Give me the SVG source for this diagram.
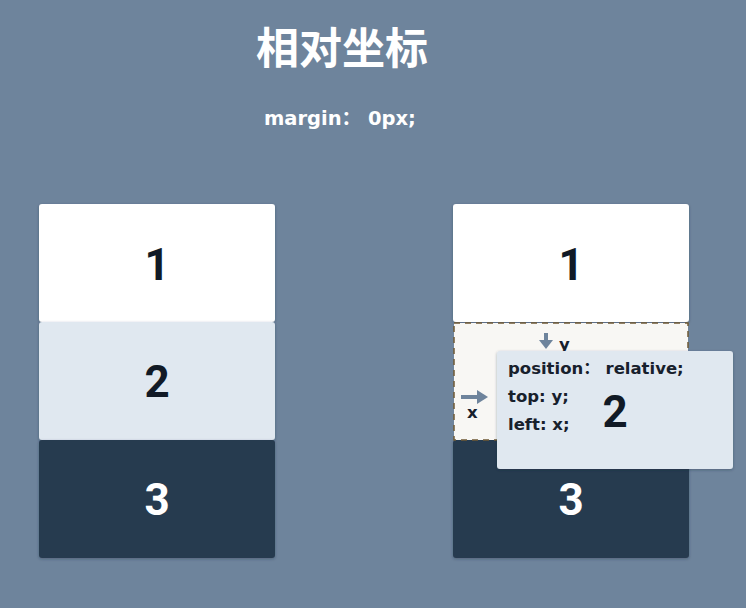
<svg xmlns="http://www.w3.org/2000/svg" width="746" height="608" viewBox="0 0 746 608">
<defs>
<style>
.num{font-family:Roboto,"Liberation Sans",sans-serif;font-weight:bold;font-size:44px;text-anchor:middle}
.code{font-family:"DejaVu Sans","Noto Sans CJK SC",sans-serif;font-weight:bold;font-size:16.5px;fill:#17202c}
</style>
<filter id="sh" x="-10%" y="-10%" width="120%" height="130%"><feDropShadow dx="0" dy="1" stdDeviation="1.5" flood-color="#1e2a3a" flood-opacity="0.35"/></filter>
</defs>
<rect width="746" height="608" fill="#6e849c"/>
<text x="342" y="64" font-family="'Noto Sans CJK SC',sans-serif" font-weight="bold" font-size="43" fill="#ffffff" text-anchor="middle">相对坐标</text>
<text x="264" y="125" font-family="'DejaVu Sans','Noto Sans CJK SC',sans-serif" font-weight="bold" font-size="19.5" fill="#ffffff">margin：  0px;</text>

<g id="left-1"><rect x="39" y="204" width="236" height="118" rx="3" fill="#ffffff" filter="url(#sh)"/><text class="num" x="157" y="280" fill="#111a26">1</text></g>
<g id="left-2"><rect x="39" y="322" width="236" height="118" rx="3" fill="#e0e8f0" filter="url(#sh)"/><text class="num" x="157" y="397" fill="#111a26">2</text></g>
<g id="left-3"><rect x="39" y="440" width="236" height="118" rx="3" fill="#283a4f" filter="url(#sh)"/><text class="num" x="157" y="515" fill="#ffffff">3</text></g>

<g id="right-1"><rect x="453" y="204" width="236" height="118" rx="3" fill="#ffffff" filter="url(#sh)"/><text class="num" x="571" y="280" fill="#111a26">1</text></g>
<g id="right-3"><rect x="453" y="440" width="236" height="118" rx="3" fill="#283a4f" filter="url(#sh)"/><text class="num" x="571" y="515" fill="#ffffff">3</text></g>
<g id="right-ghost"><rect x="454" y="323" width="234" height="117" fill="#f8f7f4" stroke="#6f5a34" stroke-width="1.5" stroke-dasharray="6,5"/></g>

<g id="connectors">
<path d="M546 333 V342" stroke="#6e849c" stroke-width="4"/>
<path d="M539 340 L553 340 L546 349 Z" fill="#6e849c"/>
<path d="M461 397 H479" stroke="#6e849c" stroke-width="4"/>
<path d="M477 390 L488 397 L477 404 Z" fill="#6e849c"/>
</g>
<text x="559" y="350" class="code" font-size="17">y</text>
<text x="467" y="418" class="code" font-size="17">x</text>

<g id="right-2"><rect x="497" y="351" width="236" height="118" rx="3" fill="#e0e8f0" filter="url(#sh)"/>
<text x="508" y="374" class="code">position：  relative;</text>
<text x="508" y="402" class="code">top: y;</text>
<text x="508" y="430" class="code">left: x;</text>
<text class="num" x="615" y="427" fill="#111a26">2</text></g>
</svg>
